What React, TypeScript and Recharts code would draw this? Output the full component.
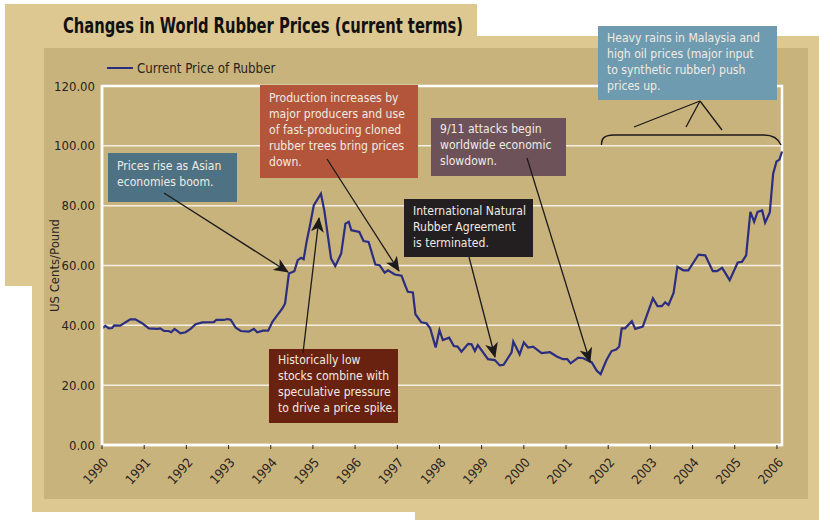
import { LineChart, Line, XAxis, YAxis, CartesianGrid, ReferenceArea } from 'recharts'

// decimal year / US cents per pound
const years = [
  1990.00, 1990.08, 1990.16, 1990.24, 1990.29, 1990.43, 1990.67, 1990.79, 1990.95,
  1991.11, 1991.31, 1991.38, 1991.47, 1991.58, 1991.64, 1991.72, 1991.86, 1991.98,
  1992.10, 1992.22, 1992.38, 1992.65, 1992.71, 1992.89, 1992.97,
  1993.05, 1993.17, 1993.29, 1993.48, 1993.60, 1993.68, 1993.82, 1993.94,
  1994.04, 1994.13, 1994.28, 1994.34, 1994.43, 1994.56, 1994.64, 1994.72, 1994.78, 1994.85, 1994.93,
  1995.02, 1995.19, 1995.27, 1995.43, 1995.53, 1995.67, 1995.77, 1995.85, 1995.91,
  1996.10, 1996.20, 1996.32, 1996.48, 1996.58, 1996.70, 1996.78, 1996.94,
  1997.10, 1997.20, 1997.25, 1997.37, 1997.43, 1997.57, 1997.69, 1997.78, 1997.91,
  1998.00, 1998.08, 1998.23, 1998.34, 1998.43, 1998.52, 1998.68, 1998.76, 1998.84, 1998.91,
  1999.15, 1999.31, 1999.43, 1999.52, 1999.71, 1999.75, 1999.90,
  2000.00, 2000.10, 2000.22, 2000.42, 2000.62, 2000.78, 2000.93,
  2001.03, 2001.11, 2001.29, 2001.41, 2001.61, 2001.73, 2001.82, 2001.96,
  2002.08, 2002.19, 2002.26, 2002.32, 2002.40, 2002.56, 2002.64, 2002.82,
  2003.06, 2003.17, 2003.27, 2003.35, 2003.43, 2003.55, 2003.64, 2003.78, 2003.90,
  2004.14, 2004.30, 2004.48, 2004.58, 2004.70, 2004.88,
  2005.07, 2005.17, 2005.27, 2005.37, 2005.46, 2005.54, 2005.65, 2005.72, 2005.83, 2005.91, 2005.99,
  2006.06, 2006.12,
]
const prices = [
  39.0, 39.8, 39.0, 39.1, 40.0, 39.9, 42.0, 42.0, 40.7,
  39.0, 38.8, 39.0, 38.1, 38.1, 37.7, 38.8, 37.3, 37.7,
  38.8, 40.4, 41.0, 41.1, 41.8, 41.8, 42.1,
  41.9, 39.2, 38.1, 37.9, 38.8, 37.7, 38.2, 38.2,
  41.2, 42.9, 45.7, 47.3, 57.3, 58.1, 61.8, 62.6, 62.1, 67.9, 73.4,
  80.1, 84.0, 78.4, 62.3, 59.8, 64.0, 74.0, 74.6, 71.8,
  71.2, 68.2, 67.9, 60.3, 60.1, 57.6, 58.4, 57.0,
  56.6, 52.9, 51.2, 51.0, 43.7, 41.0, 40.7, 39.0, 32.6,
  38.4, 35.1, 35.9, 33.1, 32.9, 31.2, 33.8, 33.7, 31.4, 33.4,
  28.7, 28.4, 26.6, 26.8, 31.0, 34.6, 30.3,
  34.3, 32.6, 32.9, 30.7, 31.0, 29.6, 28.7,
  28.7, 27.3, 29.2, 29.0, 27.6, 24.8, 23.7, 28.4,
  31.4, 31.9, 32.9, 39.0, 39.0, 41.4, 38.8, 39.6,
  49.0, 46.4, 46.4, 47.7, 46.8, 50.8, 59.6, 58.4, 58.4,
  63.6, 63.4, 58.1, 58.1, 59.2, 55.1,
  61.0, 61.2, 63.4, 77.9, 74.6, 77.9, 78.4, 74.3, 77.7, 90.7, 94.8,
  95.4, 98.1,
]
const yearTicks = [1990, 1991, 1992, 1993, 1994, 1995, 1996, 1997, 1998, 1999, 2000, 2001, 2002, 2003, 2004, 2005, 2006]
const priceTicks = [0, 20, 40, 60, 80, 100, 120]

const seriesName = 'Current Price of Rubber'
const title = 'Changes in World Rubber Prices (current terms)'

const notes = [
  { lines: ['Prices rise as Asian', 'economies boom.'], left: 108, top: 153, w: 129, h: 49, pad: 5, bg: '#4e7284' },
  { lines: ['Production increases by', 'major producers and use', 'of fast-producing cloned', 'rubber trees bring prices', 'down.'], left: 260, top: 85, w: 158, h: 93, pad: 5, bg: '#b3553a' },
  { lines: ['9/11 attacks begin', 'worldwide economic', 'slowdown.'], left: 431, top: 118, w: 135, h: 58, pad: 3, bg: '#6e525a' },
  { lines: ['International Natural', 'Rubber Agreement', 'is terminated.'], left: 404, top: 199, w: 129, h: 58, pad: 4, bg: '#231f20' },
  { lines: ['Historically low', 'stocks combine with', 'speculative pressure', 'to drive a price spike.'], left: 269, top: 349, w: 129, h: 74, pad: 3, bg: '#6a2210' },
  { lines: ['Heavy rains in Malaysia and', 'high oil prices (major input', 'to synthetic rubber) push', 'prices up.'], left: 598, top: 26, w: 179, h: 74, pad: 4, bg: '#6f9bb1' },
]

const NARROW = "'Liberation Sans Narrow', 'Arial Narrow', 'DejaVu Sans Condensed', sans-serif"
const INK = '#2a2420'
const NAVY = '#2b2d80'

const data = years.map((t, i) => ({ t, price: prices[i] }))

function YearTick(props: any) {
  const { x, y, payload } = props
  const bx = x + 7
  const by = y + 12
  return (
    <text x={bx} y={by} transform={`rotate(-48, ${bx}, ${by})`} textAnchor="end"
      fontSize={13} fill={INK} fontFamily={NARROW}>
      {payload.value}
    </text>
  )
}

export default function App() {
  return (
    <div style={{ position: 'absolute', left: 0, top: 0, width: 819, height: 520, background: '#fff', overflow: 'hidden' }}>
      {/* frame panels */}
      <div style={{ position: 'absolute', left: 5, top: 4, width: 472, height: 282, background: '#ddc891' }} />
      <div style={{ position: 'absolute', left: 32, top: 36, width: 787, height: 476, background: '#ddc891' }} />
      <div style={{ position: 'absolute', left: 415, top: 36, width: 404, height: 484, background: '#ddc891' }} />
      <div style={{ position: 'absolute', left: 44, top: 48, width: 764, height: 451, background: '#c9b37c' }} />

      <div style={{ position: 'absolute', left: 0, top: 0 }}>
        <LineChart width={819} height={520} data={data} margin={{ top: 86, right: 37, bottom: 20, left: 42 }}>
          <CartesianGrid vertical={false} stroke="#f4efe2" strokeWidth={1.5} />
          <ReferenceArea x1={1990} x2={2006.12} y1={0} y2={120} fill="none" stroke="#ffffff" strokeWidth={2.5} ifOverflow="visible" />
          <XAxis dataKey="t" type="number" domain={[1990, 2006.12]} ticks={yearTicks} interval={0}
            height={55} axisLine={{ stroke: '#ffffff', strokeWidth: 2.5 }}
            tickLine={{ stroke: INK }} tickSize={4} tickMargin={2} tick={<YearTick />} />
          <YAxis domain={[0, 120]} ticks={priceTicks} width={60} tickSize={0} tickMargin={7}
            axisLine={{ stroke: '#ffffff', strokeWidth: 2.5 }} tickLine={false}
            tickFormatter={(v: number) => v.toFixed(2)}
            tick={{ fontSize: 13, fill: INK, fontFamily: NARROW }}
            label={{ value: 'US Cents/Pound', angle: -90, position: 'insideLeft', offset: 12,
              style: { fontSize: 13, fill: INK, fontFamily: NARROW, textAnchor: 'middle' } }} />
          <Line type="linear" dataKey="price" name={seriesName} stroke={NAVY} strokeWidth={2.2}
            dot={false} isAnimationActive={false} />
        </LineChart>
      </div>

      {/* legend */}
      <div style={{ position: 'absolute', left: 107, top: 60, display: 'flex', alignItems: 'center', fontFamily: NARROW, fontSize: 14, color: INK }}>
        <span style={{ display: 'inline-block', width: 26, height: 2, background: NAVY, marginRight: 4 }} />
        <span style={{ display: 'inline-block', transform: 'scaleX(0.94)', transformOrigin: '0 0' }}>{seriesName}</span>
      </div>

      {/* annotation boxes */}
      {notes.map((n, i) => (
        <div key={i} style={{
          position: 'absolute', left: n.left, top: n.top, width: n.w, height: n.h, background: n.bg,
          boxSizing: 'border-box', padding: `${n.pad}px 0 0 9px`, color: '#efebe2',
          fontFamily: NARROW, fontSize: 13, lineHeight: '16px', whiteSpace: 'nowrap',
        }}>
          <div style={{ transform: 'scaleX(0.93)', transformOrigin: '0 0' }}>
            {n.lines.map((l, j) => <div key={j}>{l}</div>)}
          </div>
        </div>
      ))}

      {/* title, arrows and brace */}
      <svg width={819} height={520} style={{ position: 'absolute', left: 0, top: 0, pointerEvents: 'none' }}>
        <defs>
          <marker id="head" markerUnits="userSpaceOnUse" markerWidth={15} markerHeight={13} refX={14} refY={6.5} orient="auto">
            <path d="M0,0 L15,6.5 L0,13 L4,6.5 Z" fill="#1c1a1a" />
          </marker>
        </defs>
        <text x={63} y={33} fontSize={21} fontWeight="bold" fontFamily={NARROW} fill="#111"
          textLength={400} lengthAdjust="spacingAndGlyphs">{title}</text>
        <g stroke="#1c1a1a" strokeWidth={1.3} fill="none">
          <line x1={164} y1={193} x2={288} y2={272} markerEnd="url(#head)" />
          <line x1={327} y1={159} x2={399} y2={271} markerEnd="url(#head)" />
          <line x1={527} y1={158} x2={590} y2={362} markerEnd="url(#head)" />
          <line x1={469} y1={257} x2={495} y2={357} markerEnd="url(#head)" />
          <line x1={303} y1={353} x2={319} y2={218} markerEnd="url(#head)" />
          <line x1={700} y1={101} x2={634} y2={127} />
          <line x1={700} y1={101} x2={686} y2={127} />
          <line x1={700} y1={101} x2={722} y2={130} />
          <path d="M601.5,145 C601,138 605,135 614,135 L764,135 C773,135 778,138 781,145" />
        </g>
      </svg>
    </div>
  )
}
